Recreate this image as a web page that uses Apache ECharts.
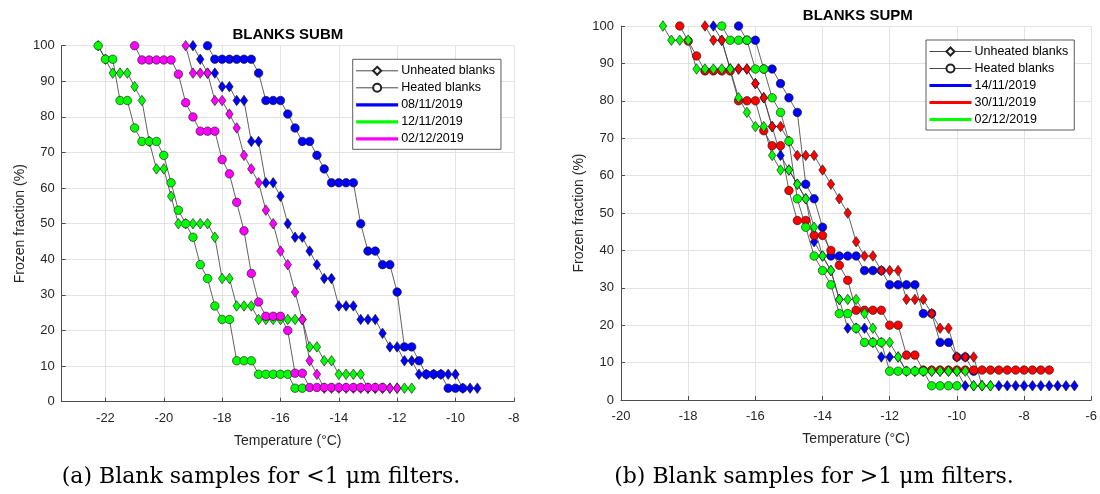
<!DOCTYPE html>
<html>
<head>
<meta charset="utf-8">
<script src="https://cdn.jsdelivr.net/npm/echarts@6/dist/echarts.min.js"></script>
<style>html,body{margin:0;padding:0;background:#fff}#c{width:1100px;height:494px}</style>
</head>
<body>
<div id="c"></div>
<script>
// ---------- DATA ----------
// Panel (a) BLANKS SUBM : [temperature °C, frozen fraction %]
const subm_0811_unheated = [[-19,100],[-18.75,96.2],[-18.5,92.3],[-18.25,92.3],[-18,88.5],[-17.75,88.5],[-17.5,84.6],[-17.25,84.6],[-17,73.1],[-16.75,73.1],[-16.5,61.5],[-16.25,61.5],[-16,57.7],[-15.75,50],[-15.5,46.2],[-15.25,46.2],[-15,42.3],[-14.75,38.5],[-14.5,34.6],[-14.25,34.6],[-14,26.9],[-13.75,26.9],[-13.5,26.9],[-13.25,23.1],[-13,23.1],[-12.75,23.1],[-12.5,19.2],[-12.25,15.4],[-12,15.4],[-11.75,11.5],[-11.5,11.5],[-11.25,7.7],[-11,7.7],[-10.75,7.7],[-10.5,7.7],[-10.25,7.7],[-10,7.7],[-9.75,3.8],[-9.5,3.8],[-9.25,3.8]];
const subm_0811_heated = [[-18.5,100],[-18.25,96.2],[-18,96.2],[-17.75,96.2],[-17.5,96.2],[-17.25,96.2],[-17,96.2],[-16.75,92.3],[-16.5,84.6],[-16.25,84.6],[-16,84.6],[-15.75,80.8],[-15.5,76.9],[-15.25,73.1],[-15,73.1],[-14.75,69.2],[-14.5,65.4],[-14.25,61.5],[-14,61.5],[-13.75,61.5],[-13.5,61.5],[-13.25,50],[-13,42.3],[-12.75,42.3],[-12.5,38.5],[-12.25,38.5],[-12,30.8],[-11.75,15.4],[-11.5,15.4],[-11.25,11.5],[-11,7.7],[-10.75,7.7],[-10.5,7.7],[-10.25,3.8],[-10,3.8],[-9.75,3.8]];
const subm_1211_unheated = [[-22.25,100],[-22,96.2],[-21.75,92.3],[-21.5,92.3],[-21.25,92.3],[-21,88.5],[-20.75,84.6],[-20.5,73.1],[-20.25,65.4],[-20,65.4],[-19.75,57.7],[-19.5,50],[-19.25,50],[-19,50],[-18.75,50],[-18.5,50],[-18.25,46.2],[-18,34.6],[-17.75,34.6],[-17.5,26.9],[-17.25,26.9],[-17,26.9],[-16.75,23.1],[-16.5,23.1],[-16.25,23.1],[-16,23.1],[-15.75,23.1],[-15.5,23.1],[-15.25,23.1],[-15,15.4],[-14.75,15.4],[-14.5,11.5],[-14.25,11.5],[-14,7.7],[-13.75,7.7],[-13.5,7.7],[-13.25,7.7],[-13,3.8],[-12.75,3.8],[-12.5,3.8],[-12.25,3.8],[-12,3.8],[-11.75,3.8],[-11.5,3.8]];
const subm_1211_heated = [[-22.25,100],[-22,96.2],[-21.75,96.2],[-21.5,84.6],[-21.25,84.6],[-21,76.9],[-20.75,73.1],[-20.5,73.1],[-20.25,73.1],[-20,69.2],[-19.75,61.5],[-19.5,53.8],[-19.25,50],[-19,46.2],[-18.75,38.5],[-18.5,34.6],[-18.25,26.9],[-18,23.1],[-17.75,23.1],[-17.5,11.5],[-17.25,11.5],[-17,11.5],[-16.75,7.7],[-16.5,7.7],[-16.25,7.7],[-16,7.7],[-15.75,7.7],[-15.5,3.8],[-15.25,3.8]];
const subm_0212_unheated = [[-19.25,100],[-19,92.3],[-18.75,92.3],[-18.5,92.3],[-18.25,84.6],[-18,84.6],[-17.75,80.8],[-17.5,76.9],[-17.25,69.2],[-17,65.4],[-16.75,61.5],[-16.5,53.8],[-16.25,50],[-16,42.3],[-15.75,38.5],[-15.5,30.8],[-15.25,23.1],[-15,11.5],[-14.75,7.7],[-14.5,3.8],[-14.25,3.8],[-14,3.8],[-13.75,3.8],[-13.5,3.8],[-13.25,3.8],[-13,3.8],[-12.75,3.8],[-12.5,3.8],[-12.25,3.8],[-12,3.8]];
const subm_0212_heated = [[-21,100],[-20.75,96],[-20.5,96],[-20.25,96],[-20,96],[-19.75,96],[-19.5,92],[-19.25,84],[-19,80],[-18.75,76],[-18.5,76],[-18.25,76],[-18,68],[-17.75,64],[-17.5,56],[-17.25,48],[-17,36],[-16.75,28],[-16.5,24],[-16.25,24],[-16,24],[-15.75,20],[-15.5,8],[-15.25,8],[-15,4],[-14.75,4],[-14.5,4],[-14.25,4],[-14,4],[-13.75,4],[-13.5,4],[-13.25,4],[-13,4],[-12.75,4],[-12.5,4]];

// Panel (b) BLANKS SUPM
const supm_1411_unheated = [[-17.25,100],[-17,96.2],[-16.75,88.5],[-16.5,88.5],[-16.25,88.5],[-16,84.6],[-15.75,80.8],[-15.5,73.1],[-15.25,65.4],[-15,61.5],[-14.75,57.7],[-14.5,53.8],[-14.25,42.3],[-14,38.5],[-13.75,34.6],[-13.5,26.9],[-13.25,19.2],[-13,19.2],[-12.75,19.2],[-12.5,15.4],[-12.25,11.5],[-12,11.5],[-11.75,11.5],[-11.5,7.7],[-11.25,7.7],[-11,7.7],[-10.75,7.7],[-10.5,7.7],[-10.25,7.7],[-10,7.7],[-9.75,3.8],[-9.5,3.8],[-9.25,3.8],[-9,3.8],[-8.75,3.8],[-8.5,3.8],[-8.25,3.8],[-8,3.8],[-7.75,3.8],[-7.5,3.8],[-7.25,3.8],[-7,3.8],[-6.75,3.8],[-6.5,3.8]];
const supm_1411_heated = [[-16.5,100],[-16.25,96.2],[-16,96.2],[-15.75,88.5],[-15.5,88.5],[-15.25,84.6],[-15,80.8],[-14.75,76.9],[-14.5,57.7],[-14.25,53.8],[-14,46.2],[-13.75,38.5],[-13.5,38.5],[-13.25,38.5],[-13,38.5],[-12.75,34.6],[-12.5,34.6],[-12.25,34.6],[-12,30.8],[-11.75,30.8],[-11.5,30.8],[-11.25,30.8],[-11,23.1],[-10.75,23.1],[-10.5,15.4],[-10.25,15.4],[-10,11.5],[-9.75,11.5],[-9.5,7.7]];
const supm_3011_unheated = [[-17.5,100],[-17.25,96.2],[-17,96.2],[-16.75,88.5],[-16.5,88.5],[-16.25,88.5],[-16,84.6],[-15.75,80.8],[-15.5,73.1],[-15.25,73.1],[-15,69.2],[-14.75,65.4],[-14.5,65.4],[-14.25,65.4],[-14,61.5],[-13.75,57.7],[-13.5,53.8],[-13.25,50],[-13,42.3],[-12.75,38.5],[-12.5,38.5],[-12.25,34.6],[-12,34.6],[-11.75,34.6],[-11.5,26.9],[-11.25,26.9],[-11,26.9],[-10.75,23.1],[-10.5,19.2],[-10.25,19.2],[-10,11.5],[-9.75,11.5],[-9.5,11.5],[-9.25,3.8]];
const supm_3011_heated = [[-18.25,100],[-18,96],[-17.75,92],[-17.5,88],[-17.25,88],[-17,88],[-16.75,88],[-16.5,80],[-16.25,80],[-16,80],[-15.75,72],[-15.5,68],[-15.25,68],[-15,56],[-14.75,48],[-14.5,48],[-14.25,44],[-14,44],[-13.75,40],[-13.5,36],[-13.25,32],[-13,24],[-12.75,24],[-12.5,24],[-12.25,24],[-12,20],[-11.75,20],[-11.5,12],[-11.25,12],[-11,8],[-10.75,8],[-10.5,8],[-10.25,8],[-10,8],[-9.75,8],[-9.5,8],[-9.25,8],[-9,8],[-8.75,8],[-8.5,8],[-8.25,8],[-8,8],[-7.75,8],[-7.5,8],[-7.25,8]];
const supm_0212_unheated = [[-18.75,100],[-18.5,96.2],[-18.25,96.2],[-18,96.2],[-17.75,88.5],[-17.5,88.5],[-17.25,88.5],[-17,88.5],[-16.75,88.5],[-16.5,80.8],[-16.25,76.9],[-16,73.1],[-15.75,73.1],[-15.5,65.4],[-15.25,61.5],[-15,61.5],[-14.75,57.7],[-14.5,53.8],[-14.25,46.2],[-14,38.5],[-13.75,34.6],[-13.5,26.9],[-13.25,26.9],[-13,26.9],[-12.75,23.1],[-12.5,19.2],[-12.25,15.4],[-12,15.4],[-11.75,11.5],[-11.5,7.7],[-11.25,7.7],[-11,7.7],[-10.75,7.7],[-10.5,7.7],[-10.25,7.7],[-10,7.7],[-9.75,7.7],[-9.5,3.8],[-9.25,3.8],[-9,3.8]];
const supm_0212_heated = [[-17,100],[-16.75,96.2],[-16.5,96.2],[-16.25,96.2],[-16,88.5],[-15.75,88.5],[-15.5,80.8],[-15.25,76.9],[-15,69.2],[-14.75,53.8],[-14.5,46.2],[-14.25,38.5],[-14,34.6],[-13.75,30.8],[-13.5,23.1],[-13.25,23.1],[-13,19.2],[-12.75,15.4],[-12.5,15.4],[-12.25,15.4],[-12,7.7],[-11.75,7.7],[-11.5,7.7],[-11.25,7.7],[-11,7.7],[-10.75,3.8],[-10.5,3.8],[-10.25,3.8],[-10,3.8]];

// Tick labels
const submXTicks = [-22,-20,-18,-16,-14,-12,-10,-8];
const supmXTicks = [-20,-18,-16,-14,-12,-10,-8,-6];
const yTicks = [0,10,20,30,40,50,60,70,80,90,100];

// Texts
const titles = ['BLANKS SUBM','BLANKS SUPM'];
const captions = ['(a) Blank samples for <1 \u03bcm filters.','(b) Blank samples for >1 \u03bcm filters.'];
const legendSubm = ['Unheated blanks','Heated blanks','08/11/2019','12/11/2019','02/12/2019'];
const legendSupm = ['Unheated blanks','Heated blanks','14/11/2019','30/11/2019','02/12/2019 '];

// ---------- CHART ----------
const FONT = 'Liberation Sans, Arial, sans-serif';
const BLUE = '#0000ff', GREEN = '#00ff00', MAG = '#ff00ff', RED = '#ff0000';
const LINE_ICON = 'path://M0,0H42V3.2H0Z';

function dataSeries(name, data, color, sym, idx) {
  return {
    name: name, type: 'line', xAxisIndex: idx, yAxisIndex: idx, data: data,
    symbol: sym, symbolSize: sym === 'diamond' ? [7.5, 10.5] : 8.5,
    showAllSymbol: true,
    lineStyle: {color: '#3a3a3a', width: 0.8},
    itemStyle: {color: color, borderColor: '#111', borderWidth: 0.6},
    emphasis: {disabled: true}, silent: true
  };
}
function legendSeries(name, idx, opts) {
  return Object.assign({name: name, type: 'line', xAxisIndex: idx, yAxisIndex: idx, data: []}, opts);
}

const series = [
  // legend-only entries
  legendSeries('Unheated blanks', 0, {symbol: 'diamond', symbolSize: [7, 10], lineStyle: {color: '#333', width: 0.8}, itemStyle: {color: '#fff', borderColor: '#222', borderWidth: 0.8}}),
  legendSeries('Heated blanks', 0, {symbol: 'circle', symbolSize: 8, lineStyle: {color: '#333', width: 0.8}, itemStyle: {color: '#fff', borderColor: '#222', borderWidth: 0.8}}),
  legendSeries('08/11/2019', 0, {symbol: 'none', lineStyle: {color: BLUE, width: 3}, itemStyle: {color: BLUE}}),
  legendSeries('12/11/2019', 0, {symbol: 'none', lineStyle: {color: GREEN, width: 3}, itemStyle: {color: GREEN}}),
  legendSeries('02/12/2019', 0, {symbol: 'none', lineStyle: {color: MAG, width: 3}, itemStyle: {color: MAG}}),
  legendSeries('14/11/2019', 1, {symbol: 'none', lineStyle: {color: BLUE, width: 3}, itemStyle: {color: BLUE}}),
  legendSeries('30/11/2019', 1, {symbol: 'none', lineStyle: {color: RED, width: 3}, itemStyle: {color: RED}}),
  legendSeries('02/12/2019 ', 1, {symbol: 'none', lineStyle: {color: GREEN, width: 3}, itemStyle: {color: GREEN}}),
  // panel (a)
  dataSeries('SUBM 08/11 unheated', subm_0811_unheated, BLUE, 'diamond', 0),
  dataSeries('SUBM 08/11 heated', subm_0811_heated, BLUE, 'circle', 0),
  dataSeries('SUBM 12/11 unheated', subm_1211_unheated, GREEN, 'diamond', 0),
  dataSeries('SUBM 12/11 heated', subm_1211_heated, GREEN, 'circle', 0),
  dataSeries('SUBM 02/12 unheated', subm_0212_unheated, MAG, 'diamond', 0),
  dataSeries('SUBM 02/12 heated', subm_0212_heated, MAG, 'circle', 0),
  // panel (b)
  dataSeries('SUPM 14/11 unheated', supm_1411_unheated, BLUE, 'diamond', 1),
  dataSeries('SUPM 14/11 heated', supm_1411_heated, BLUE, 'circle', 1),
  dataSeries('SUPM 30/11 unheated', supm_3011_unheated, RED, 'diamond', 1),
  dataSeries('SUPM 30/11 heated', supm_3011_heated, RED, 'circle', 1),
  dataSeries('SUPM 02/12 unheated', supm_0212_unheated, GREEN, 'diamond', 1),
  dataSeries('SUPM 02/12 heated', supm_0212_heated, GREEN, 'circle', 1)
];

function xAxisCfg(idx, min, max, ticks) {
  return {
    type: 'value', gridIndex: idx, min: min, max: max,
    axisLine: {show: true, onZero: false, lineStyle: {color: '#4d4d4d', width: 1}},
    axisTick: {show: true, inside: true, length: 4, customValues: ticks, lineStyle: {color: '#4d4d4d'}},
    axisLabel: {customValues: ticks, color: '#262626', fontSize: 13, fontFamily: FONT, margin: 10},
    splitLine: {show: true, lineStyle: {color: '#e3e3e3', width: 1}},
    name: 'Temperature (\u00b0C)', nameLocation: 'middle', nameGap: 32,
    nameTextStyle: {color: '#262626', fontSize: 14, fontFamily: FONT}
  };
}
function yAxisCfg(idx) {
  return {
    type: 'value', gridIndex: idx, min: 0, max: 100,
    axisLine: {show: true, onZero: false, lineStyle: {color: '#4d4d4d', width: 1}},
    axisTick: {show: true, inside: true, length: 4, customValues: yTicks, lineStyle: {color: '#4d4d4d'}},
    axisLabel: {customValues: yTicks, color: '#262626', fontSize: 13, fontFamily: FONT, margin: 7},
    splitLine: {show: true, lineStyle: {color: '#e3e3e3', width: 1}},
    name: 'Frozen fraction (%)', nameLocation: 'middle', nameGap: 35,
    nameTextStyle: {color: '#262626', fontSize: 14, fontFamily: FONT}
  };
}
function legendCfg(names, left, top) {
  return {
    data: names.map(function (n, i) { return i < 2 ? {name: n} : {name: n, icon: LINE_ICON}; }),
    orient: 'vertical', left: left, top: top,
    itemWidth: 42, itemHeight: 10, itemGap: 4,
    padding: [5, 6, 4, 3],
    lineStyle: {width: 0.9},
    backgroundColor: '#fff', borderColor: '#333', borderWidth: 0.8, borderRadius: 0,
    textStyle: {color: '#000', fontSize: 12.5, fontFamily: FONT, padding: [0, 0, 0, -2]},
    selectedMode: false
  };
}
function titleCfg(text, cx, top, size, family, weight) {
  return {text: text, left: cx, top: top, textAlign: 'center', padding: 0,
    textStyle: {color: '#000', fontSize: size, fontFamily: family, fontWeight: weight}};
}

const option = {
  animation: false,
  backgroundColor: '#fff',
  title: [
    titleCfg(titles[0], 287.8, 27, 15, FONT, 'bold'),
    titleCfg(titles[1], 857.8, 8.5, 15, FONT, 'bold'),
    titleCfg(captions[0], 261, 466, 22, 'DejaVu Serif, serif', 'normal'),
    titleCfg(captions[1], 814, 466, 22, 'DejaVu Serif, serif', 'normal')
  ],
  legend: [legendCfg(legendSubm, 352.7, 59.3), legendCfg(legendSupm, 926, 40)],
  grid: [
    {left: 61.7, top: 45.7, width: 452.1, height: 356, containLabel: false},
    {left: 621, top: 26, width: 473.7, height: 374, containLabel: false}
  ],
  xAxis: [xAxisCfg(0, -23.5, -8, submXTicks), xAxisCfg(1, -20, -6, supmXTicks)],
  yAxis: [yAxisCfg(0), yAxisCfg(1)],
  series: series
};

const chart = echarts.init(document.getElementById('c'), null, {renderer: 'canvas'});
chart.setOption(option);
</script>
</body>
</html>
